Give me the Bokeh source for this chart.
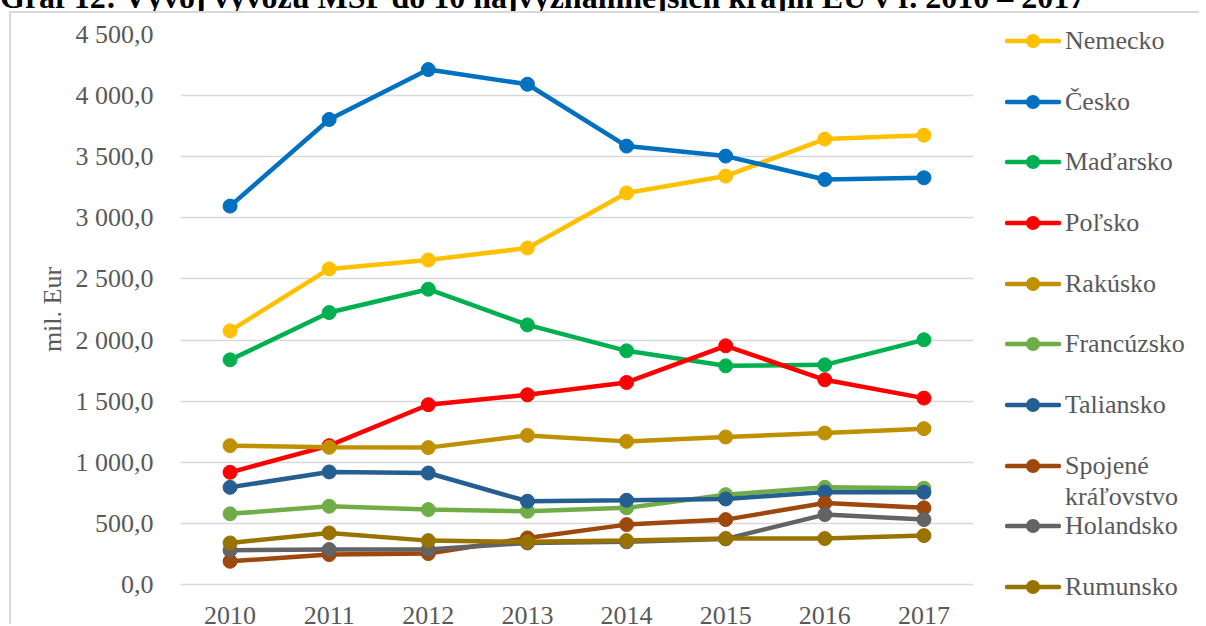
from bokeh.plotting import figure
from bokeh.layouts import column, row
from bokeh.models import FactorRange, Range1d, FixedTicker, Div
from bokeh.embed import file_html
from bokeh.resources import INLINE

years = ["2010", "2011", "2012", "2013", "2014", "2015", "2016", "2017"]

nemecko = [2075, 2582, 2655, 2753, 3203, 3342, 3644, 3676]
cesko = [3096, 3805, 4213, 4093, 3587, 3505, 3314, 3328]
madarsko = [1838, 2225, 2416, 2124, 1912, 1789, 1797, 2002]
polsko = [918, 1136, 1471, 1552, 1653, 1953, 1675, 1525]
rakusko = [1136, 1122, 1120, 1220, 1171, 1207, 1239, 1275]
francuzsko = [578, 640, 613, 599, 627, 735, 795, 788]
taliansko = [795, 921, 912, 681, 689, 700, 757, 755]
spojene = [190, 245, 253, 381, 490, 531, 667, 627]
holandsko = [280, 286, 286, 340, 349, 373, 572, 531]
rumunsko = [340, 422, 359, 349, 359, 376, 376, 400]

series_names = ["Nemecko", "Česko", "Maďarsko", "Poľsko", "Rakúsko",
                "Francúzsko", "Taliansko", "Spojené", "Holandsko", "Rumunsko"]
series_values = [nemecko, cesko, madarsko, polsko, rakusko,
                 francuzsko, taliansko, spojene, holandsko, rumunsko]
series_colors = ["#FFC000", "#0070C0", "#00B050", "#FF0000", "#BF9000",
                 "#70AD47", "#255E91", "#9E480E", "#636363", "#997300"]
# wrapped second line of a legend label ("" = none)
legend_second_lines = ["", "", "", "", "", "", "", "kráľovstvo", "", ""]

y_ticks = [0, 500, 1000, 1500, 2000, 2500, 3000, 3500, 4000, 4500]
y_tick_labels = ["0,0", "500,0", "1 000,0", "1 500,0", "2 000,0",
                 "2 500,0", "3 000,0", "3 500,0", "4 000,0", "4 500,0"]

title_text = "Graf 12: Vývoj vývozu MSP do 10 najvýznamnejších krajín EÚ v r. 2010 – 2017"
y_label = "mil. Eur"

FONT = "Liberation Serif"
TXT = "#595959"
GRID = "#D9D9D9"
BORDER = "2px solid #D9D9D9"

title_div = Div(
    text=('<div style="position:relative; top:-19px; white-space:nowrap; '
          'font-family:Liberation Serif, serif; font-weight:bold; font-size:32px; '
          'line-height:32px; color:#000;">' + title_text + '</div>'),
    width=1200, height=11, margin=0,
    styles={"overflow": "hidden", "height": "11px"})

# ---- main chart ----
p = figure(width=964, height=613, x_range=FactorRange(*years, range_padding=0),
           y_range=Range1d(0, 4500), output_backend="svg", toolbar_location=None,
           min_border_left=169, min_border_right=2, min_border_top=21, min_border_bottom=41)
p.styles = {"margin-left": "9px", "border-left": BORDER, "border-top": BORDER}
p.outline_line_color = None
p.background_fill_color = "white"
p.border_fill_color = "white"

p.xgrid.grid_line_color = None
p.ygrid.grid_line_color = GRID
p.ygrid.grid_line_width = 1.5

p.yaxis.ticker = FixedTicker(ticks=y_ticks)
p.yaxis.major_label_overrides = {t: l for t, l in zip(y_ticks, y_tick_labels)}
p.yaxis.axis_line_color = None
p.yaxis.major_tick_line_color = None
p.yaxis.minor_tick_line_color = None
p.yaxis.major_label_standoff = 21
p.yaxis.axis_label = y_label
p.yaxis.axis_label_standoff = 6
p.yaxis.axis_label_text_font = FONT
p.yaxis.axis_label_text_font_style = "normal"
p.yaxis.axis_label_text_font_size = "26px"
p.yaxis.axis_label_text_color = TXT

p.xaxis.axis_line_color = GRID
p.xaxis.axis_line_width = 1.5
p.xaxis.major_tick_line_color = None
p.xaxis.minor_tick_line_color = None
p.xaxis.major_label_standoff = 16

for ax in (p.xaxis, p.yaxis):
    ax.major_label_text_font = FONT
    ax.major_label_text_font_size = "26px"
    ax.major_label_text_color = TXT

for vals, col in zip(series_values, series_colors):
    p.line(years, vals, line_color=col, line_width=4.5)
    p.scatter(years, vals, size=14, fill_color=col, line_color=col)

# ---- legend (HTML, beside the chart) ----
ITEM_STEP = 60.65
FIRST_CENTER = 28
parts = []
for i, (name, col, second) in enumerate(zip(series_names, series_colors, legend_second_lines)):
    cy = FIRST_CENTER + i * ITEM_STEP
    parts.append(
        f'<div style="position:absolute; left:32px; top:{cy - 15:.1f}px; height:30px; '
        f'display:flex; align-items:center; white-space:nowrap;">'
        f'<svg width="56" height="30" style="display:block">'
        f'<line x1="2" y1="15" x2="54" y2="15" stroke="{col}" stroke-width="4.5" stroke-linecap="round"/>'
        f'<circle cx="28" cy="15" r="7" fill="{col}"/></svg>'
        f'<span style="margin-left:4px; line-height:30px;">{name}</span></div>')
    if second:
        parts.append(
            f'<div style="position:absolute; left:92px; top:{cy + 31 - 15:.1f}px; height:30px; '
            f'line-height:30px; white-space:nowrap;">{second}</div>')

legend_div = Div(
    text=('<div style="position:relative; width:226px; height:611px; '
          'font-family:Liberation Serif, serif; font-size:26px; color:#595959;">'
          + "".join(parts) + '</div>'),
    width=226, height=613, margin=0,
    styles={"border-top": BORDER, "overflow": "hidden"})

layout = column(title_div, row(p, legend_div, spacing=0), spacing=0)
open("out.html", "w").write(file_html(layout, INLINE))
